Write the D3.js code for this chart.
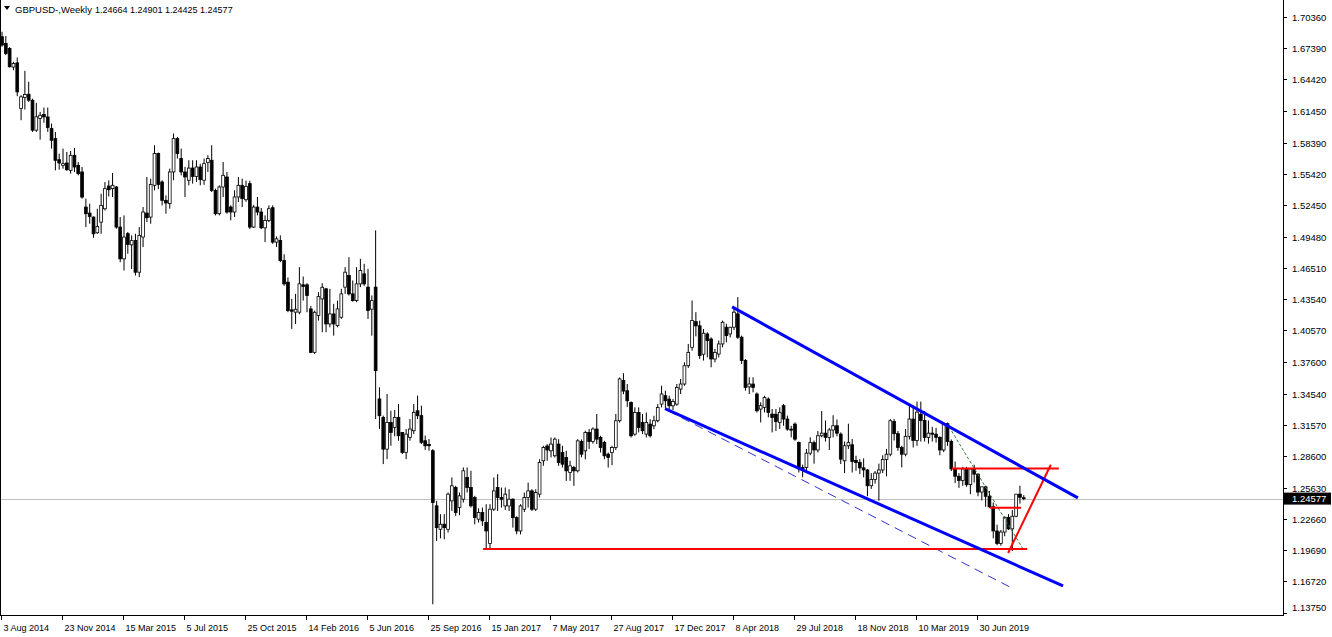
<!DOCTYPE html>
<html><head><meta charset="utf-8">
<script src="https://cdn.jsdelivr.net/npm/d3@7"></script>
<style>
html,body{margin:0;padding:0;background:#fff;overflow:hidden;}
svg{display:block;}
text{font-family:"Liberation Sans",Arial,sans-serif;fill:#000;}
</style></head><body>
<svg id="chart" width="1332" height="637"></svg>
<script>
// ---- DATA (weekly GBPUSD bars, index 0 = week of 3 Aug 2014) ----
const opens = [1.6848,1.6785,1.6737,1.6560,1.6600,1.6166,1.6270,1.6302,1.6245,1.5960,1.6071,1.6109,1.6086,1.5975,1.5880,1.5680,1.5626,1.5648,1.5578,1.5721,1.5626,1.5563,1.5229,1.5172,1.5134,1.4985,1.5086,1.5213,1.5429,1.5404,1.5420,1.5039,1.4737,1.4976,1.4870,1.4912,1.4610,1.4944,1.5172,1.5134,1.5436,1.5738,1.5468,1.5293,1.5262,1.5563,1.5880,1.5690,1.5563,1.5484,1.5600,1.5520,1.5610,1.5484,1.5652,1.5674,1.5388,1.5166,1.5420,1.5515,1.5230,1.5182,1.5325,1.5436,1.5299,1.5452,1.5039,1.5229,1.5182,1.5032,1.5102,1.5223,1.4896,1.4912,1.4721,1.4515,1.4252,1.4230,1.4230,1.4490,1.4490,1.4261,1.3848,1.4198,1.4356,1.4452,1.4118,1.4213,1.4102,1.4182,1.4468,1.4578,1.4404,1.4340,1.4499,1.4594,1.4468,1.4258,1.4468,1.3405,1.3230,1.2928,1.3182,1.3135,1.3230,1.3087,1.2897,1.3040,1.3103,1.3293,1.3246,1.3008,1.2973,1.2913,1.2389,1.2166,1.2214,1.2166,1.2436,1.2563,1.2373,1.2452,1.2659,1.2563,1.2468,1.2262,1.2325,1.2230,1.2030,1.2357,1.2563,1.2468,1.2388,1.2388,1.2452,1.2277,1.2150,1.2357,1.2468,1.2531,1.2357,1.2500,1.2817,1.2958,1.2912,1.2865,1.2976,1.2896,1.2849,1.2706,1.2753,1.2722,1.3000,1.2912,1.3087,1.3000,1.3119,1.3039,1.2991,1.2880,1.2896,1.2944,1.3198,1.3580,1.3483,1.3372,1.3071,1.3277,1.3182,1.3071,1.3166,1.3150,1.3198,1.3356,1.3436,1.3404,1.3340,1.3356,1.3499,1.3547,1.3721,1.3896,1.4140,1.4100,1.3830,1.4023,1.3975,1.3785,1.3832,1.3928,1.4087,1.4023,1.4087,1.4214,1.3992,1.3770,1.3520,1.3547,1.3452,1.3309,1.3325,1.3404,1.3261,1.3260,1.3182,1.3341,1.3214,1.3118,1.3166,1.2992,1.2753,1.2753,1.2890,1.2990,1.2920,1.3055,1.3080,1.3040,1.3110,1.3150,1.3071,1.2817,1.2960,1.2970,1.2820,1.2800,1.2750,1.2730,1.2580,1.2640,1.2700,1.2730,1.2830,1.2880,1.3190,1.3075,1.2944,1.2880,1.3050,1.3214,1.3010,1.3260,1.3200,1.3040,1.3080,1.3070,1.3040,1.2920,1.3170,1.3000,1.2740,1.2670,1.2630,1.2740,1.2590,1.2740,1.2690,1.2520,1.2570,1.2480,1.2380,1.2150,1.2030,1.2140,1.2280,1.2170,1.2290,1.2500,1.24664];
const highs = [1.6896,1.6855,1.6750,1.6610,1.6651,1.6293,1.6524,1.6420,1.6260,1.6220,1.6134,1.6175,1.6175,1.6023,1.5943,1.5737,1.5785,1.5753,1.5763,1.5791,1.5658,1.5610,1.5309,1.5261,1.5140,1.5213,1.5356,1.5467,1.5483,1.5553,1.5429,1.5134,1.5150,1.4992,1.4960,1.4975,1.5039,1.5230,1.5515,1.5499,1.5817,1.5747,1.5484,1.5340,1.5595,1.5928,1.5896,1.5785,1.5611,1.5674,1.5674,1.5674,1.5640,1.5690,1.5722,1.5817,1.5404,1.5436,1.5658,1.5563,1.5246,1.5388,1.5515,1.5499,1.5480,1.5480,1.5250,1.5325,1.5220,1.5150,1.5245,1.5245,1.4950,1.4960,1.4780,1.4560,1.4356,1.4404,1.4658,1.4569,1.4506,1.4290,1.4245,1.4420,1.4505,1.4460,1.4452,1.4309,1.4340,1.4452,1.4658,1.4753,1.4531,1.4658,1.4737,1.4690,1.4642,1.4389,1.5008,1.3516,1.3246,1.3452,1.3293,1.3300,1.3357,1.3090,1.3119,1.3214,1.3357,1.3437,1.3341,1.3056,1.3024,1.2928,1.2436,1.2310,1.2310,1.2516,1.2659,1.2579,1.2516,1.2754,1.2754,1.2722,1.2484,1.2365,1.2373,1.2404,1.2405,1.2658,1.2690,1.2563,1.2563,1.2547,1.2460,1.2290,1.2404,1.2515,1.2610,1.2547,1.2547,1.2832,1.2960,1.2975,1.3039,1.3039,1.3023,1.2960,1.2912,1.2817,1.2769,1.3023,1.3020,1.3103,1.3120,1.3135,1.3262,1.3055,1.3007,1.2896,1.2960,1.3262,1.3610,1.3650,1.3547,1.3382,1.3325,1.3325,1.3261,1.3277,1.3213,1.3245,1.3356,1.3531,1.3483,1.3436,1.3404,1.3547,1.3595,1.3753,1.3928,1.4341,1.4230,1.4150,1.4070,1.4039,1.3991,1.3880,1.3960,1.4150,1.4120,1.4090,1.4261,1.4373,1.4007,1.3785,1.3611,1.3611,1.3468,1.3373,1.3436,1.3420,1.3309,1.3310,1.3325,1.3357,1.3246,1.3150,1.3182,1.3000,1.2780,1.2930,1.3040,1.3010,1.3100,1.3290,1.3200,1.3130,1.3250,1.3210,1.3087,1.3000,1.3170,1.3024,1.2865,1.2833,1.2840,1.2740,1.2700,1.2720,1.2790,1.2870,1.2930,1.3214,1.3215,1.3100,1.2960,1.3119,1.3350,1.3341,1.3380,1.3380,1.3290,1.3200,1.3140,1.3130,1.3050,1.3180,1.3180,1.3020,1.2810,1.2700,1.2760,1.2760,1.2750,1.2780,1.2700,1.2570,1.2580,1.2530,1.2420,1.2210,1.2160,1.2290,1.2310,1.2350,1.2500,1.2580,1.24901];
const lows = [1.6753,1.6674,1.6556,1.6530,1.6283,1.6055,1.6156,1.6229,1.5944,1.5944,1.5870,1.6030,1.5944,1.5785,1.5578,1.5585,1.5594,1.5572,1.5547,1.5563,1.5531,1.5309,1.5039,1.5071,1.4937,1.4975,1.4975,1.5197,1.5330,1.5325,1.5023,1.4705,1.4626,1.4785,1.4640,1.4579,1.4563,1.4849,1.5087,1.5071,1.5388,1.5400,1.5245,1.5166,1.5214,1.5484,1.5690,1.5530,1.5325,1.5436,1.5452,1.5468,1.5436,1.5440,1.5563,1.5372,1.5150,1.5150,1.5325,1.5166,1.5103,1.5134,1.5277,1.5229,1.5280,1.5020,1.5030,1.5150,1.5020,1.4896,1.5086,1.4880,1.4850,1.4705,1.4480,1.4230,1.4071,1.4118,1.4210,1.4340,1.4229,1.3840,1.3833,1.4150,1.4039,1.4039,1.4086,1.4007,1.4086,1.4166,1.4404,1.4388,1.4330,1.4325,1.4468,1.4480,1.4166,1.4007,1.3214,1.3120,1.2786,1.2833,1.2960,1.3050,1.3008,1.2881,1.2833,1.3008,1.3071,1.3214,1.2976,1.2920,1.2913,1.1453,1.2055,1.2080,1.2071,1.2135,1.2341,1.2293,1.2300,1.2420,1.2516,1.2373,1.2214,1.2230,1.2198,1.1976,1.1986,1.2340,1.2340,1.2372,1.2350,1.2340,1.2182,1.2118,1.2118,1.2330,1.2372,1.2340,1.2340,1.2468,1.2770,1.2817,1.2849,1.2849,1.2769,1.2753,1.2626,1.2626,1.2579,1.2706,1.2850,1.2830,1.2930,1.2980,1.2976,1.2896,1.2833,1.2753,1.2775,1.2920,1.3180,1.3450,1.3330,1.3039,1.3055,1.3087,1.3071,1.3039,1.3039,1.3118,1.3182,1.3325,1.3320,1.3300,1.3300,1.3340,1.3452,1.3530,1.3700,1.3864,1.4000,1.3785,1.3770,1.3801,1.3706,1.3753,1.3800,1.3896,1.3944,1.3990,1.4060,1.3976,1.3738,1.3484,1.3452,1.3468,1.3277,1.3182,1.3277,1.3230,1.3087,1.3100,1.3120,1.3150,1.3103,1.3040,1.3007,1.2706,1.2661,1.2722,1.2870,1.2790,1.2896,1.3040,1.3000,1.2920,1.3040,1.3050,1.2786,1.2700,1.2930,1.2706,1.2722,1.2690,1.2660,1.2480,1.2550,1.2600,1.2437,1.2700,1.2670,1.2860,1.3010,1.2912,1.2754,1.2860,1.3020,1.2944,1.2960,1.3000,1.3000,1.2980,1.3000,1.2990,1.2870,1.2900,1.2960,1.2720,1.2605,1.2560,1.2580,1.2570,1.2500,1.2610,1.2480,1.2440,1.2380,1.2370,1.2080,1.2015,1.2010,1.2100,1.2160,1.1960,1.2280,1.2410,1.24425];
const closes = [1.6769,1.6690,1.6563,1.6595,1.6324,1.6277,1.6300,1.6245,1.5960,1.6087,1.6102,1.6086,1.5985,1.5864,1.5674,1.5648,1.5642,1.5585,1.5721,1.5610,1.5547,1.5324,1.5166,1.5140,1.4975,1.5045,1.5245,1.5404,1.5394,1.5436,1.5039,1.4737,1.4944,1.4874,1.4910,1.4610,1.4960,1.5182,1.5128,1.5445,1.5738,1.5445,1.5293,1.5268,1.5563,1.5880,1.5738,1.5563,1.5515,1.5600,1.5520,1.5610,1.5490,1.5642,1.5690,1.5388,1.5166,1.5420,1.5531,1.5182,1.5182,1.5325,1.5436,1.5309,1.5426,1.5039,1.5229,1.5182,1.5032,1.5102,1.5213,1.4896,1.4927,1.4721,1.4499,1.4245,1.4239,1.4258,1.4499,1.4474,1.4388,1.3848,1.4229,1.4378,1.4467,1.4118,1.4213,1.4118,1.4261,1.4404,1.4610,1.4404,1.4340,1.4499,1.4626,1.4499,1.4245,1.4340,1.3674,1.3246,1.2928,1.3182,1.3087,1.3230,1.3056,1.2897,1.3071,1.3119,1.3278,1.3246,1.2992,1.2960,1.2960,1.2421,1.2182,1.2214,1.2182,1.2500,1.2579,1.2325,1.2484,1.2722,1.2563,1.2389,1.2278,1.2325,1.2246,1.2150,1.2357,1.2531,1.2468,1.2452,1.2500,1.2452,1.2277,1.2150,1.2388,1.2468,1.2531,1.2357,1.2515,1.2801,1.2944,1.2920,1.2976,1.3023,1.2801,1.2785,1.2722,1.2769,1.2722,1.3007,1.2880,1.3087,1.3000,1.3119,1.3023,1.2944,1.2865,1.2849,1.2944,1.3198,1.3595,1.3480,1.3388,1.3055,1.3277,1.3134,1.3103,1.3182,1.3055,1.3198,1.3325,1.3452,1.3388,1.3340,1.3380,1.3515,1.3547,1.3721,1.3848,1.4150,1.4100,1.3817,1.4030,1.3960,1.3785,1.3848,1.3928,1.4134,1.4007,1.4087,1.4230,1.3992,1.3770,1.3515,1.3547,1.3515,1.3293,1.3341,1.3420,1.3277,1.3230,1.3190,1.3277,1.3214,1.3118,1.3110,1.3023,1.2753,1.2730,1.2890,1.2990,1.2920,1.3055,1.3080,1.3040,1.3110,1.3150,1.3080,1.2833,1.2960,1.2990,1.2810,1.2800,1.2750,1.2730,1.2580,1.2640,1.2700,1.2730,1.2830,1.2880,1.3198,1.3075,1.2944,1.2880,1.3050,1.3214,1.3010,1.3280,1.3200,1.3040,1.3080,1.3070,1.3040,1.2920,1.3170,1.3000,1.2740,1.2670,1.2630,1.2740,1.2590,1.2740,1.2690,1.2520,1.2570,1.2480,1.2380,1.2150,1.2030,1.2140,1.2280,1.2170,1.2290,1.2500,1.2470,1.24577];

const timeLabels = ["3 Aug 2014","23 Nov 2014","15 Mar 2015","5 Jul 2015","25 Oct 2015","14 Feb 2016","5 Jun 2016","25 Sep 2016","15 Jan 2017","7 May 2017","27 Aug 2017","17 Dec 2017","8 Apr 2018","29 Jul 2018","18 Nov 2018","10 Mar 2019","30 Jun 2019"];
const timeLabelBars = [0,16,32,48,64,80,96,112,128,144,160,176,192,208,224,240,256];
const priceTicks = [1.70360,1.67390,1.64420,1.61450,1.58390,1.55420,1.52450,1.49480,1.46510,1.43540,1.40570,1.37600,1.34540,1.31570,1.28600,1.25630,1.22660,1.19690,1.16720,1.13750];
const lastPrice = 1.24577;
const titleSymbol = "GBPUSD-,Weekly";
const titleValues = "1.24664 1.24901 1.24425 1.24577";

// drawn objects: [barStart, priceStart, barEnd, priceEnd]
const blueChannel = [[191.5, 1.4280, 282.2, 1.2465],[173.9, 1.3312, 278.3, 1.1627]];
const blueDashed = [[174.7, 1.3293, 265.4, 1.1598]];
const greenDashed = [[248.4, 1.3141, 267.8, 1.1979]];
const redLines = [[126.2, 1.1979, 268.9, 1.1979],[249.2, 1.2745, 277.2, 1.2745],[259.1, 1.2370, 267.3, 1.2370],[263.9, 1.1941, 275.1, 1.2779]];

// ---- CHART ----
const plotRight = 1283, plotBottom = 615;
const svg = d3.select("#chart");

const x = d3.scaleLinear().domain([0, 256]).range([2, 978]);
const y = d3.scaleLinear().domain([1.13750, 1.70360]).range([612.5, 17]);

const bars = opens.map((o,i)=>({i, o, h:highs[i], l:lows[i], c:closes[i]}));

svg.append("defs").append("clipPath").attr("id","plotclip")
  .append("rect").attr("x",0).attr("y",0).attr("width",plotRight).attr("height",plotBottom);

const plot = svg.append("g").attr("clip-path","url(#plotclip)");

// current price line
plot.append("line").attr("x1",0).attr("x2",plotRight)
  .attr("y1",Math.round(y(lastPrice))+0.5).attr("y2",Math.round(y(lastPrice))+0.5)
  .attr("stroke","#c0c0c0").attr("stroke-width",1);

// candles
const bw = 2.8;
const cg = plot.append("g");
cg.selectAll("line.wick").data(bars).join("line").attr("class","wick")
  .attr("x1",d=>x(d.i)).attr("x2",d=>x(d.i))
  .attr("y1",d=>y(d.h)).attr("y2",d=>y(d.l))
  .attr("stroke","#000").attr("stroke-width",1);
cg.selectAll("rect.body").data(bars).join("rect").attr("class","body")
  .attr("x",d=>x(d.i)-bw/2).attr("width",bw)
  .attr("y",d=>y(Math.max(d.o,d.c)))
  .attr("height",d=>Math.max(1,Math.abs(y(d.o)-y(d.c))))
  .attr("fill",d=>d.c>=d.o?"#fff":"#000")
  .attr("stroke","#000").attr("stroke-width",0.8);

// objects
function drawSeg(arr, color, width, dash){
  plot.append("g").selectAll("line").data(arr).join("line")
    .attr("x1",d=>x(d[0])).attr("y1",d=>y(d[1]))
    .attr("x2",d=>x(d[2])).attr("y2",d=>y(d[3]))
    .attr("stroke",color).attr("stroke-width",width)
    .attr("stroke-dasharray",dash||null).attr("stroke-linecap","butt");
}
drawSeg(blueDashed, "#3333cc", 1, "9,6");
drawSeg(greenDashed, "#2e7d32", 1, "3,2");
drawSeg(redLines, "#ff0000", 2);
drawSeg(blueChannel, "#0000ff", 3);

// frame / axes
svg.append("line").attr("x1",0.5).attr("x2",0.5).attr("y1",0).attr("y2",plotBottom).attr("stroke","#000");
svg.append("line").attr("x1",plotRight+0.5).attr("x2",plotRight+0.5).attr("y1",0).attr("y2",plotBottom+0.5).attr("stroke","#000");
svg.append("line").attr("x1",0).attr("x2",plotRight+1).attr("y1",plotBottom+0.5).attr("y2",plotBottom+0.5).attr("stroke","#000");

// price axis
const ya = svg.append("g");
priceTicks.forEach(p=>{
  const yy = Math.round(y(p))+0.5;
  ya.append("line").attr("x1",plotRight).attr("x2",plotRight+4).attr("y1",yy).attr("y2",yy).attr("stroke","#000");
  ya.append("text").attr("x",1292).attr("y",Math.min(yy,608)).attr("dy","0.35em")
    .attr("font-size","9.5px").text(p.toFixed(5));
});
// last price box
const ly = y(lastPrice);
ya.append("rect").attr("x",plotRight+1).attr("y",ly-6).attr("width",47).attr("height",12).attr("fill","#000");
ya.append("text").attr("x",1292).attr("y",ly).attr("dy","0.35em").attr("font-size","9.5px")
  .style("fill","#fff").text(lastPrice.toFixed(5));

// time axis
const xa = svg.append("g");
timeLabelBars.forEach((b,k)=>{
  const xx = Math.round(x(b))-0.5;
  xa.append("line").attr("x1",xx).attr("x2",xx).attr("y1",plotBottom).attr("y2",plotBottom+5).attr("stroke","#000");
  xa.append("text").attr("x",xx+2).attr("y",631).attr("font-size","9px").text(timeLabels[k]);
});

// title
svg.append("path").attr("d","M4,6 L10,6 L7,10 Z").attr("fill","#000");
svg.append("text").attr("x",15).attr("y",12.5).attr("font-size","9.5px").text(titleSymbol);
svg.append("text").attr("x",95).attr("y",12.5).attr("font-size","9px").text(titleValues);
</script>
</body></html>
